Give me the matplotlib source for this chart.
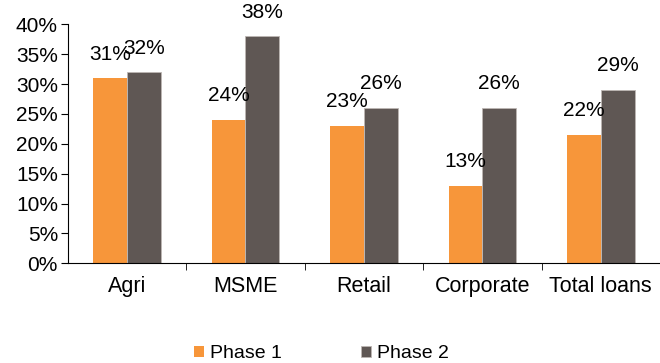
import numpy as np
import matplotlib.pyplot as plt

plt.rcParams['font.family'] = ['Liberation Sans', 'DejaVu Sans']

categories = ['Agri', 'MSME', 'Retail', 'Corporate', 'Total loans']
phase1 = [31, 24, 23, 13, 21.5]
phase2 = [32, 38, 26, 26, 29]
phase1_labels = ['31%', '24%', '23%', '13%', '22%']
phase2_labels = ['32%', '38%', '26%', '26%', '29%']

orange = '#F7963A'
grey = '#5F5754'

fig = plt.figure(figsize=(6.6, 3.63), dpi=100)
ax = fig.add_axes([0.1026, 0.2747, 0.8974, 0.6583])

x = np.arange(len(categories))
w = 0.285
b1 = ax.bar(x - w / 2, phase1, w, color=orange, label='Phase 1')
b2 = ax.bar(x + w / 2, phase2, w, color=grey, edgecolor='#BDB6B3', linewidth=0.6, label='Phase 2')

# value labels above each bar
for bars, labs in ((b1, phase1_labels), (b2, phase2_labels)):
    for bar, lab in zip(bars, labs):
        ax.annotate(lab, (bar.get_x() + bar.get_width() / 2, bar.get_height()),
                    xytext=(0, 10.5), textcoords='offset points',
                    ha='center', va='bottom', fontsize=15)

ax.set_xlim(-0.5, len(categories) - 0.5)
ax.set_ylim(0, 40)
ax.set_yticks(np.arange(0, 41, 5))
ax.set_yticklabels([f'{v}%' for v in range(0, 41, 5)])
ax.set_xticks(x)
ax.set_xticklabels(categories)
ax.set_xticks(np.arange(0.5, len(categories) - 1, 1), minor=True)
ax.tick_params(axis='x', which='major', length=0, pad=9, labelsize=15.5)
ax.tick_params(axis='x', which='minor', length=5, direction='out')
ax.tick_params(axis='y', length=5, direction='out', labelsize=15, pad=2)

for s in ['top', 'right']:
    ax.spines[s].set_visible(False)

fig.legend(loc='lower center', bbox_to_anchor=(0.487, -0.046), ncol=2, frameon=False,
           fontsize=14, handlelength=0.52, handleheight=0.52, handletextpad=0.31,
           columnspacing=4.1)

fig.savefig('out.png', dpi=100)
